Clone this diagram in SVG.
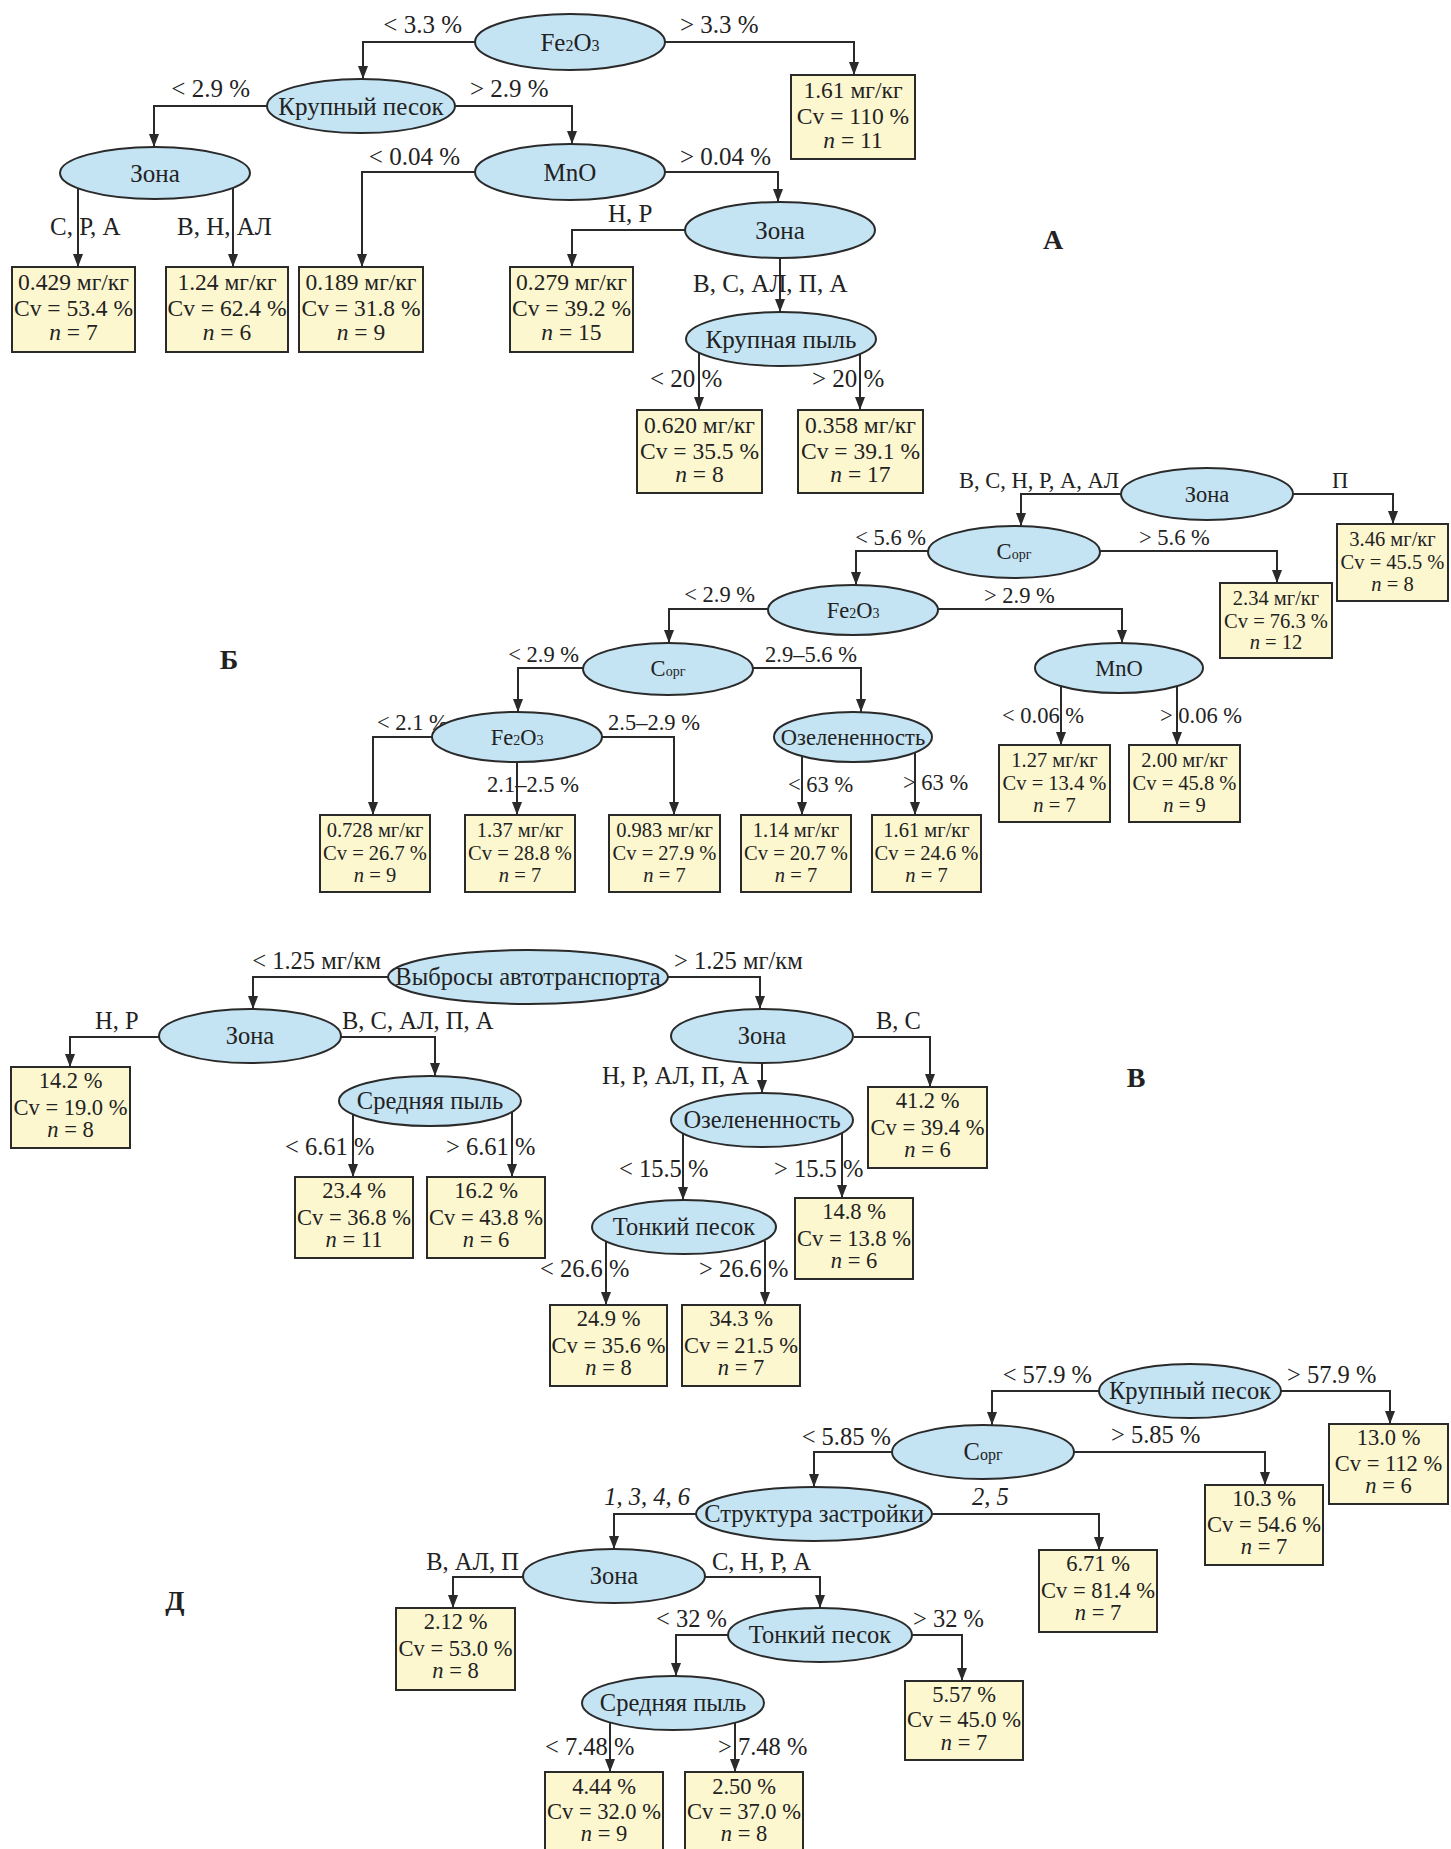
<svg xmlns="http://www.w3.org/2000/svg" width="1451" height="1849" viewBox="0 0 1451 1849">
<style>
text{font-family:"Liberation Serif","Times New Roman",serif;fill:#222}
.n{fill:#c4e4f4;stroke:#2a2a2a;stroke-width:2}
.b{fill:#fcf7cf;stroke:#2a2a2a;stroke-width:2}
.c path{fill:none;stroke:#2a2a2a;stroke-width:2;marker-end:url(#arr)}
.m{text-anchor:middle}
.e{text-anchor:end}
.lA{font-size:25px}.bA{font-size:23.5px}
.lB{font-size:22.5px}.bB{font-size:20.5px}
.lV{font-size:24.5px}.bV{font-size:22.5px}
.subA{font-size:16px}
.subB{font-size:14px}
.subV{font-size:16px}
.i{font-style:italic}
.L{font-size:28px;font-weight:bold}
</style>
<defs>
<marker id="arr" markerWidth="13" markerHeight="10" refX="13" refY="5" orient="auto" markerUnits="userSpaceOnUse"><path d="M0,0 L13,5 L0,10 z" fill="#2a2a2a"/></marker>
</defs>

<g class="c" id="connectors">
<!-- A -->
<path d="M475,42 H363 V79"/>
<path d="M665,42 H854 V75"/>
<path d="M267,106 H154 V147"/>
<path d="M455,106 H572 V144"/>
<path d="M475,172 H362 V267"/>
<path d="M665,172 H778 V202"/>
<path d="M78,188 V267"/>
<path d="M233,188 V267"/>
<path d="M686,230 H572 V267"/>
<path d="M780,258 V312"/>
<path d="M699,353 V410"/>
<path d="M860,353 V410"/>
<!-- Б -->
<path d="M1121,494 H1021 V526"/>
<path d="M1293,494 H1393 V524"/>
<path d="M1100,551 H1277 V583"/>
<path d="M928,551 H856 V585"/>
<path d="M938,609 H1122 V643"/>
<path d="M768,609 H669 V643"/>
<path d="M1061,686 V745"/>
<path d="M1177,686 V745"/>
<path d="M583,668 H518 V712"/>
<path d="M753,668 H861 V712"/>
<path d="M432,737 H373 V815"/>
<path d="M602,737 H674 V815"/>
<path d="M517,762 V815"/>
<path d="M802,756 V815"/>
<path d="M915,753 V815"/>
<!-- В -->
<path d="M388,977 H253 V1009"/>
<path d="M668,977 H760 V1009"/>
<path d="M159,1037 H70 V1067"/>
<path d="M341,1037 H435 V1076"/>
<path d="M353,1114 V1177"/>
<path d="M512,1112 V1177"/>
<path d="M854,1037 H930 V1087"/>
<path d="M762,1063 V1093"/>
<path d="M683,1133 V1200"/>
<path d="M842,1133 V1198"/>
<path d="M606,1241 V1305"/>
<path d="M765,1241 V1305"/>
<!-- Д -->
<path d="M1099,1391 H992 V1425"/>
<path d="M1281,1391 H1390 V1424"/>
<path d="M892,1452 H814 V1487"/>
<path d="M1074,1452 H1265 V1485"/>
<path d="M696,1514 H614 V1549"/>
<path d="M932,1514 H1099 V1550"/>
<path d="M523,1577 H453 V1608"/>
<path d="M705,1577 H820 V1608"/>
<path d="M728,1635 H676 V1676"/>
<path d="M912,1635 H962 V1681"/>
<path d="M610,1722 V1772"/>
<path d="M735,1722 V1772"/>
</g>

<g id="edge-labels">
<g class="lA">
<text x="462" y="33" class="e">&lt; 3.3 %</text>
<text x="680" y="33">&gt; 3.3 %</text>
<text x="250" y="97" class="e">&lt; 2.9 %</text>
<text x="470" y="97">&gt; 2.9 %</text>
<text x="460" y="165" class="e">&lt; 0.04 %</text>
<text x="680" y="165">&gt; 0.04 %</text>
<text x="50" y="235">С, Р, А</text>
<text x="177" y="235">В, Н, АЛ</text>
<text x="608" y="222">Н, Р</text>
<text x="693" y="292">В, С, АЛ, П, А</text>
<text x="650" y="387">&lt; 20 %</text>
<text x="812" y="387">&gt; 20 %</text>
</g>
<g class="lB">
<text x="1119" y="488" class="e">В, С, Н, Р, А, АЛ</text>
<text x="1332" y="488">П</text>
<text x="926" y="545" class="e">&lt; 5.6 %</text>
<text x="1139" y="545">&gt; 5.6 %</text>
<text x="755" y="602" class="e">&lt; 2.9 %</text>
<text x="984" y="603">&gt; 2.9 %</text>
<text x="579" y="662" class="e">&lt; 2.9 %</text>
<text x="765" y="662">2.9–5.6 %</text>
<text x="377" y="730">&lt; 2.1 %</text>
<text x="608" y="730">2.5–2.9 %</text>
<text x="487" y="792">2.1–2.5 %</text>
<text x="788" y="792">&lt; 63 %</text>
<text x="903" y="790">&gt; 63 %</text>
<text x="1002" y="723">&lt; 0.06 %</text>
<text x="1160" y="723">&gt; 0.06 %</text>
</g>
<g class="lV">
<text x="381" y="969" class="e">&lt; 1.25 мг/км</text>
<text x="674" y="969">&gt; 1.25 мг/км</text>
<text x="95" y="1029">Н, Р</text>
<text x="342" y="1029">В, С, АЛ, П, А</text>
<text x="285" y="1155">&lt; 6.61 %</text>
<text x="446" y="1155">&gt; 6.61 %</text>
<text x="876" y="1029">В, С</text>
<text x="749" y="1084" class="e">Н, Р, АЛ, П, А</text>
<text x="619" y="1177">&lt; 15.5 %</text>
<text x="774" y="1177">&gt; 15.5 %</text>
<text x="540" y="1277">&lt; 26.6 %</text>
<text x="699" y="1277">&gt; 26.6 %</text>
<text x="1092" y="1383" class="e">&lt; 57.9 %</text>
<text x="1287" y="1383">&gt; 57.9 %</text>
<text x="891" y="1445" class="e">&lt; 5.85 %</text>
<text x="1111" y="1443">&gt; 5.85 %</text>
<text x="690" y="1505" class="e i">1, 3, 4, 6</text>
<text x="972" y="1505" class="i">2, 5</text>
<text x="519" y="1570" class="e">В, АЛ, П</text>
<text x="712" y="1570">С, Н, Р, А</text>
<text x="727" y="1627" class="e">&lt; 32 %</text>
<text x="913" y="1627">&gt; 32 %</text>
<text x="545" y="1755">&lt; 7.48 %</text>
<text x="718" y="1755">&gt; 7.48 %</text>
</g>
</g>

<g id="panel-labels" class="L">
<text x="1053" y="249" class="m">А</text>
<text x="229" y="669" class="m">Б</text>
<text x="1136" y="1087" class="m">В</text>
<text x="175" y="1610" class="m">Д</text>
</g>

<!-- ===== A nodes ===== -->
<g id="A-fe2o3"><ellipse class="n" cx="570" cy="42" rx="95" ry="28"/><text x="570" y="51" class="m lA">Fe<tspan class="subA">2</tspan>O<tspan class="subA">3</tspan></text></g>
<g id="A-kp"><ellipse class="n" cx="361" cy="106" rx="94" ry="27"/><text x="361" y="115" class="m lA">Крупный песок</text></g>
<g id="A-mno"><ellipse class="n" cx="570" cy="172" rx="95" ry="28"/><text x="570" y="181" class="m lA">MnO</text></g>
<g id="A-zona1"><ellipse class="n" cx="155" cy="173" rx="95" ry="26"/><text x="155" y="182" class="m lA">Зона</text></g>
<g id="A-zona2"><ellipse class="n" cx="780" cy="230" rx="95" ry="28"/><text x="780" y="239" class="m lA">Зона</text></g>
<g id="A-kpyl"><ellipse class="n" cx="781" cy="339" rx="95" ry="27"/><text x="781" y="348" class="m lA">Крупная пыль</text></g>

<g id="A-leaf1"><rect class="b" x="791" y="75" width="124" height="84"/><g class="m bA"><text x="853" y="98">1.61 мг/кг</text><text x="853" y="124">Cv = 110 %</text><text x="853" y="148"><tspan class="i">n</tspan> = 11</text></g></g>
<g id="A-leaf2"><rect class="b" x="12" y="267" width="123" height="85"/><g class="m bA"><text x="73.5" y="290">0.429 мг/кг</text><text x="73.5" y="316">Cv = 53.4 %</text><text x="73.5" y="340"><tspan class="i">n</tspan> = 7</text></g></g>
<g id="A-leaf3"><rect class="b" x="166" y="267" width="122" height="85"/><g class="m bA"><text x="227" y="290">1.24 мг/кг</text><text x="227" y="316">Cv = 62.4 %</text><text x="227" y="340"><tspan class="i">n</tspan> = 6</text></g></g>
<g id="A-leaf4"><rect class="b" x="299" y="267" width="124" height="85"/><g class="m bA"><text x="361" y="290">0.189 мг/кг</text><text x="361" y="316">Cv = 31.8 %</text><text x="361" y="340"><tspan class="i">n</tspan> = 9</text></g></g>
<g id="A-leaf5"><rect class="b" x="510" y="267" width="123" height="85"/><g class="m bA"><text x="571.5" y="290">0.279 мг/кг</text><text x="571.5" y="316">Cv = 39.2 %</text><text x="571.5" y="340"><tspan class="i">n</tspan> = 15</text></g></g>
<g id="A-leaf6"><rect class="b" x="637" y="410" width="125" height="83"/><g class="m bA"><text x="699.5" y="433">0.620 мг/кг</text><text x="699.5" y="459">Cv = 35.5 %</text><text x="699.5" y="482"><tspan class="i">n</tspan> = 8</text></g></g>
<g id="A-leaf7"><rect class="b" x="798" y="410" width="125" height="83"/><g class="m bA"><text x="860.5" y="433">0.358 мг/кг</text><text x="860.5" y="459">Cv = 39.1 %</text><text x="860.5" y="482"><tspan class="i">n</tspan> = 17</text></g></g>

<!-- ===== Б nodes ===== -->
<g id="B-zona"><ellipse class="n" cx="1207" cy="494" rx="86" ry="26"/><text x="1207" y="502" class="m lB">Зона</text></g>
<g id="B-corg1"><ellipse class="n" cx="1014" cy="552" rx="86" ry="26"/><text x="1014" y="559" class="m lB">С<tspan class="subB">орг</tspan></text></g>
<g id="B-fe1"><ellipse class="n" cx="853" cy="610" rx="85" ry="25"/><text x="853" y="618" class="m lB">Fe<tspan class="subB">2</tspan>O<tspan class="subB">3</tspan></text></g>
<g id="B-mno"><ellipse class="n" cx="1119" cy="668" rx="84" ry="25"/><text x="1119" y="676" class="m lB">MnO</text></g>
<g id="B-corg2"><ellipse class="n" cx="668" cy="669" rx="85" ry="26"/><text x="668" y="676" class="m lB">С<tspan class="subB">орг</tspan></text></g>
<g id="B-fe2"><ellipse class="n" cx="517" cy="737" rx="85" ry="25"/><text x="517" y="745" class="m lB">Fe<tspan class="subB">2</tspan>O<tspan class="subB">3</tspan></text></g>
<g id="B-ozel"><ellipse class="n" cx="853" cy="737" rx="79" ry="25"/><text x="853" y="745" class="m lB">Озелененность</text></g>

<g id="B-leaf1"><rect class="b" x="1337" y="524" width="111" height="77"/><g class="m bB"><text x="1392.5" y="546">3.46 мг/кг</text><text x="1392.5" y="569">Cv = 45.5 %</text><text x="1392.5" y="591"><tspan class="i">n</tspan> = 8</text></g></g>
<g id="B-leaf2"><rect class="b" x="1220" y="583" width="112" height="75"/><g class="m bB"><text x="1276" y="605">2.34 мг/кг</text><text x="1276" y="628">Cv = 76.3 %</text><text x="1276" y="649"><tspan class="i">n</tspan> = 12</text></g></g>
<g id="B-leaf3"><rect class="b" x="999" y="745" width="111" height="77"/><g class="m bB"><text x="1054.5" y="767">1.27 мг/кг</text><text x="1054.5" y="790">Cv = 13.4 %</text><text x="1054.5" y="812"><tspan class="i">n</tspan> = 7</text></g></g>
<g id="B-leaf4"><rect class="b" x="1129" y="745" width="111" height="77"/><g class="m bB"><text x="1184.5" y="767">2.00 мг/кг</text><text x="1184.5" y="790">Cv = 45.8 %</text><text x="1184.5" y="812"><tspan class="i">n</tspan> = 9</text></g></g>
<g id="B-leaf5"><rect class="b" x="320" y="815" width="110" height="77"/><g class="m bB"><text x="375" y="837">0.728 мг/кг</text><text x="375" y="860">Cv = 26.7 %</text><text x="375" y="882"><tspan class="i">n</tspan> = 9</text></g></g>
<g id="B-leaf6"><rect class="b" x="465" y="815" width="110" height="77"/><g class="m bB"><text x="520" y="837">1.37 мг/кг</text><text x="520" y="860">Cv = 28.8 %</text><text x="520" y="882"><tspan class="i">n</tspan> = 7</text></g></g>
<g id="B-leaf7"><rect class="b" x="609" y="815" width="111" height="77"/><g class="m bB"><text x="664.5" y="837">0.983 мг/кг</text><text x="664.5" y="860">Cv = 27.9 %</text><text x="664.5" y="882"><tspan class="i">n</tspan> = 7</text></g></g>
<g id="B-leaf8"><rect class="b" x="741" y="815" width="110" height="77"/><g class="m bB"><text x="796" y="837">1.14 мг/кг</text><text x="796" y="860">Cv = 20.7 %</text><text x="796" y="882"><tspan class="i">n</tspan> = 7</text></g></g>
<g id="B-leaf9"><rect class="b" x="872" y="815" width="109" height="77"/><g class="m bB"><text x="926.5" y="837">1.61 мг/кг</text><text x="926.5" y="860">Cv = 24.6 %</text><text x="926.5" y="882"><tspan class="i">n</tspan> = 7</text></g></g>

<!-- ===== В nodes ===== -->
<g id="V-vybr"><ellipse class="n" cx="528" cy="977" rx="140" ry="27"/><text x="528" y="985" class="m lV">Выбросы автотранспорта</text></g>
<g id="V-zona1"><ellipse class="n" cx="250" cy="1036" rx="91" ry="27"/><text x="250" y="1044" class="m lV">Зона</text></g>
<g id="V-sred"><ellipse class="n" cx="430" cy="1101" rx="91" ry="25"/><text x="430" y="1109" class="m lV">Средняя пыль</text></g>
<g id="V-zona2"><ellipse class="n" cx="762" cy="1036" rx="91" ry="27"/><text x="762" y="1044" class="m lV">Зона</text></g>
<g id="V-ozel"><ellipse class="n" cx="762" cy="1120" rx="91" ry="27"/><text x="762" y="1128" class="m lV">Озелененность</text></g>
<g id="V-tonk"><ellipse class="n" cx="684" cy="1227" rx="92" ry="27"/><text x="684" y="1235" class="m lV">Тонкий песок</text></g>

<g id="V-leaf1"><rect class="b" x="11" y="1067" width="119" height="81"/><g class="m bV"><text x="70.5" y="1088">14.2 %</text><text x="70.5" y="1115">Cv = 19.0 %</text><text x="70.5" y="1137"><tspan class="i">n</tspan> = 8</text></g></g>
<g id="V-leaf2"><rect class="b" x="295" y="1177" width="118" height="81"/><g class="m bV"><text x="354" y="1198">23.4 %</text><text x="354" y="1225">Cv = 36.8 %</text><text x="354" y="1247"><tspan class="i">n</tspan> = 11</text></g></g>
<g id="V-leaf3"><rect class="b" x="427" y="1177" width="118" height="81"/><g class="m bV"><text x="486" y="1198">16.2 %</text><text x="486" y="1225">Cv = 43.8 %</text><text x="486" y="1247"><tspan class="i">n</tspan> = 6</text></g></g>
<g id="V-leaf4"><rect class="b" x="868" y="1087" width="119" height="81"/><g class="m bV"><text x="927.5" y="1108">41.2 %</text><text x="927.5" y="1135">Cv = 39.4 %</text><text x="927.5" y="1157"><tspan class="i">n</tspan> = 6</text></g></g>
<g id="V-leaf5"><rect class="b" x="795" y="1198" width="118" height="81"/><g class="m bV"><text x="854" y="1219">14.8 %</text><text x="854" y="1246">Cv = 13.8 %</text><text x="854" y="1268"><tspan class="i">n</tspan> = 6</text></g></g>
<g id="V-leaf6"><rect class="b" x="550" y="1305" width="117" height="81"/><g class="m bV"><text x="608.5" y="1326">24.9 %</text><text x="608.5" y="1353">Cv = 35.6 %</text><text x="608.5" y="1375"><tspan class="i">n</tspan> = 8</text></g></g>
<g id="V-leaf7"><rect class="b" x="682" y="1305" width="118" height="81"/><g class="m bV"><text x="741" y="1326">34.3 %</text><text x="741" y="1353">Cv = 21.5 %</text><text x="741" y="1375"><tspan class="i">n</tspan> = 7</text></g></g>

<!-- ===== Д nodes ===== -->
<g id="D-kp"><ellipse class="n" cx="1190" cy="1391" rx="91" ry="27"/><text x="1190" y="1399" class="m lV">Крупный песок</text></g>
<g id="D-corg"><ellipse class="n" cx="983" cy="1452" rx="91" ry="27"/><text x="983" y="1460" class="m lV">С<tspan class="subV">орг</tspan></text></g>
<g id="D-strukt"><ellipse class="n" cx="814" cy="1514" rx="118" ry="27"/><text x="814" y="1522" class="m lV">Структура застройки</text></g>
<g id="D-zona"><ellipse class="n" cx="614" cy="1576" rx="91" ry="27"/><text x="614" y="1584" class="m lV">Зона</text></g>
<g id="D-tonk"><ellipse class="n" cx="820" cy="1635" rx="92" ry="27"/><text x="820" y="1643" class="m lV">Тонкий песок</text></g>
<g id="D-sred"><ellipse class="n" cx="673" cy="1703" rx="91" ry="27"/><text x="673" y="1711" class="m lV">Средняя пыль</text></g>

<g id="D-leaf1"><rect class="b" x="1329" y="1424" width="119" height="80"/><g class="m bV"><text x="1388.5" y="1445">13.0 %</text><text x="1388.5" y="1471">Cv = 112 %</text><text x="1388.5" y="1493"><tspan class="i">n</tspan> = 6</text></g></g>
<g id="D-leaf2"><rect class="b" x="1205" y="1485" width="118" height="80"/><g class="m bV"><text x="1264" y="1506">10.3 %</text><text x="1264" y="1532">Cv = 54.6 %</text><text x="1264" y="1554"><tspan class="i">n</tspan> = 7</text></g></g>
<g id="D-leaf3"><rect class="b" x="1039" y="1550" width="118" height="82"/><g class="m bV"><text x="1098" y="1571">6.71 %</text><text x="1098" y="1598">Cv = 81.4 %</text><text x="1098" y="1620"><tspan class="i">n</tspan> = 7</text></g></g>
<g id="D-leaf4"><rect class="b" x="396" y="1608" width="119" height="82"/><g class="m bV"><text x="455.5" y="1629">2.12 %</text><text x="455.5" y="1656">Cv = 53.0 %</text><text x="455.5" y="1678"><tspan class="i">n</tspan> = 8</text></g></g>
<g id="D-leaf5"><rect class="b" x="905" y="1681" width="118" height="79"/><g class="m bV"><text x="964" y="1702">5.57 %</text><text x="964" y="1727">Cv = 45.0 %</text><text x="964" y="1750"><tspan class="i">n</tspan> = 7</text></g></g>
<g id="D-leaf6"><rect class="b" x="545" y="1772" width="118" height="82"/><g class="m bV"><text x="604" y="1794">4.44 %</text><text x="604" y="1819">Cv = 32.0 %</text><text x="604" y="1841"><tspan class="i">n</tspan> = 9</text></g></g>
<g id="D-leaf7"><rect class="b" x="685" y="1772" width="118" height="82"/><g class="m bV"><text x="744" y="1794">2.50 %</text><text x="744" y="1819">Cv = 37.0 %</text><text x="744" y="1841"><tspan class="i">n</tspan> = 8</text></g></g>
</svg>
